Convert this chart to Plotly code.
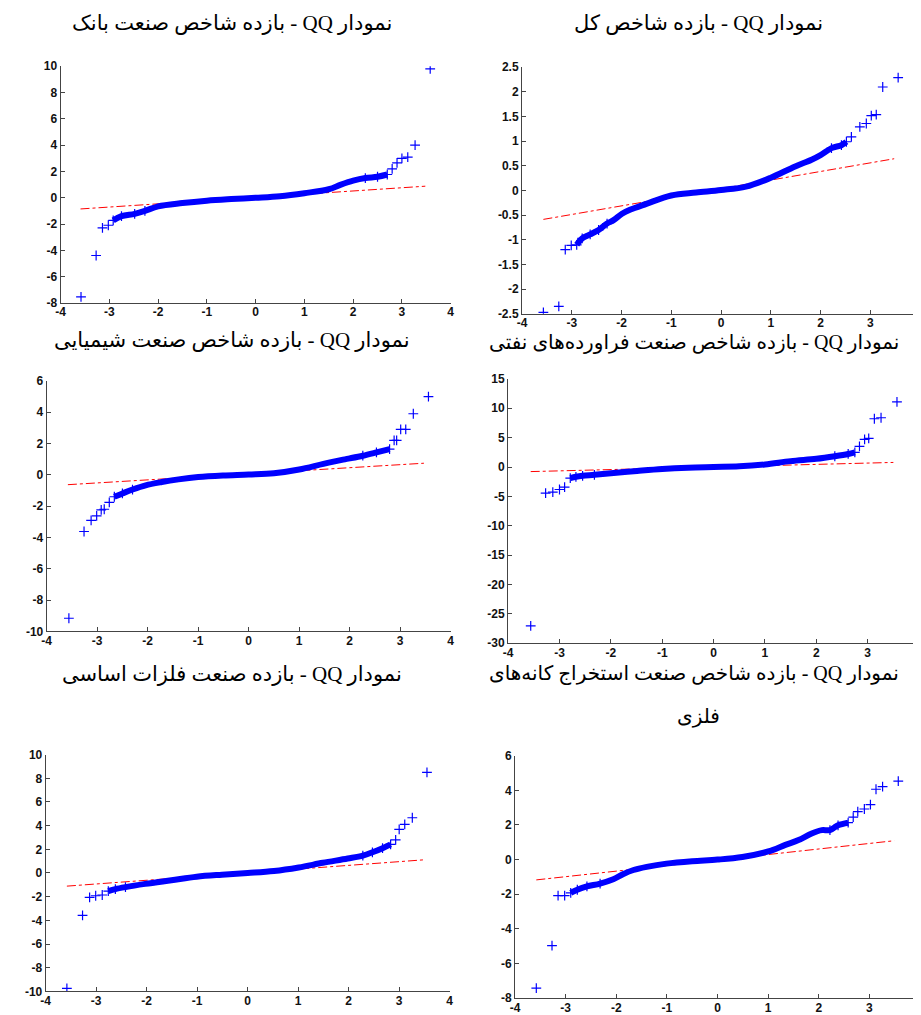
import plotly.graph_objects as go

W, H = 921, 1015

# ---------------- data ----------------
# Panel 1: bank industry
bank_band_x = [-2.92, -2.75, -2.48, -2.27, -2.0, -1.5, -1.0, -0.5, 0.0, 0.5, 1.0, 1.5, 1.75, 2.0, 2.25, 2.5, 2.7]
bank_band_y = [-1.72, -1.40, -1.22, -1.0, -0.65, -0.4, -0.22, -0.1, 0.0, 0.12, 0.35, 0.65, 1.0, 1.3, 1.5, 1.6, 1.77]
bank_tail_x = [-3.58, -3.27, -3.14, -3.02, 2.8, 2.9, 3.0, 3.12, 3.27, 3.58]
bank_tail_y = [-7.53, -4.39, -2.29, -2.09, 2.2, 2.65, 3.0, 3.09, 4.0, 9.8]
bank_ref_x = [-3.59, 3.48]
bank_ref_y = [-0.85, 0.88]

# Panel 2: overall index
total_band_x = [-2.9, -2.79, -2.63, -2.46, -2.29, -2.16, -1.99, -1.83, -1.5, -1.0, -0.5, 0.0, 0.5, 1.0, 1.49, 1.82, 2.0, 2.22, 2.42, 2.52]
total_band_y = [-1.1, -0.97, -0.89, -0.80, -0.67, -0.6, -0.47, -0.39, -0.27, -0.1, -0.04, 0.01, 0.08, 0.26, 0.49, 0.625, 0.72, 0.86, 0.92, 0.99]
total_tail_x = [-3.57, -3.26, -3.13, -3.01, 2.62, 2.79, 2.92, 3.02, 3.12, 3.25, 3.56]
total_tail_y = [-2.47, -2.35, -1.2, -1.11, 1.09, 1.29, 1.36, 1.52, 1.54, 2.1, 2.29]
total_ref_x = [-3.57, 3.48]
total_ref_y = [-0.585, 0.645]

# Panel 3: chemical industry
chem_band_x = [-2.66, -2.5, -2.3, -2.04, -1.72, -1.39, -1.0, -0.51, 0.0, 0.5, 1.0, 1.48, 1.87, 2.0, 2.26, 2.53, 2.79]
chem_band_y = [-1.40, -1.19, -0.94, -0.67, -0.46, -0.29, -0.14, -0.04, 0.02, 0.1, 0.34, 0.7, 0.97, 1.05, 1.22, 1.43, 1.64]
chem_tail_x = [-3.56, -3.26, -3.12, -3.01, -2.92, -2.86, -2.76, 2.88, 2.93, 3.01, 3.11, 3.26, 3.56]
chem_tail_y = [-9.16, -3.62, -2.91, -2.62, -2.24, -2.2, -1.76, 2.2, 2.2, 2.9, 2.9, 3.9, 4.99]
chem_ref_x = [-3.58, 3.47]
chem_ref_y = [-0.63, 0.74]

# Panel 4: petroleum products industry
oil_band_x = [-2.79, -2.68, -2.55, -2.32, -2.0, -1.49, -1.0, -0.5, 0.0, 0.5, 1.0, 1.5, 2.0, 2.36, 2.62, 2.75]
oil_band_y = [-1.89, -1.67, -1.5, -1.33, -1.06, -0.67, -0.33, -0.11, 0.0, 0.11, 0.44, 1.0, 1.39, 1.83, 2.22, 2.5]
oil_tail_x = [-3.56, -3.27, -3.13, -3.0, -2.9, 2.84, 2.94, 3.02, 3.13, 3.26, 3.57]
oil_tail_y = [-27.06, -4.44, -4.28, -3.83, -3.44, 3.5, 4.72, 4.89, 8.22, 8.39, 11.1]
oil_ref_x = [-3.56, 3.5]
oil_ref_y = [-0.78, 0.78]

# Panel 5: basic metals industry
metal_band_x = [-2.76, -2.62, -2.42, -2.03, -1.51, -1.01, -0.51, 0.0, 0.52, 1.01, 1.49, 1.98, 2.28, 2.47, 2.67, 2.83]
metal_band_y = [-1.53, -1.36, -1.19, -0.92, -0.61, -0.31, -0.14, 0.0, 0.17, 0.47, 0.86, 1.22, 1.47, 1.75, 2.1, 2.42]
metal_tail_x = [-3.58, -3.27, -3.13, -3.01, -2.88, 2.93, 3.0, 3.11, 3.26, 3.55]
metal_tail_y = [-9.75, -3.58, -2.06, -1.92, -1.86, 2.8, 3.69, 4.11, 4.67, 8.5]
metal_ref_x = [-3.58, 3.48]
metal_ref_y = [-1.11, 1.11]

# Panel 6: metal ore mining industry
mine_band_x = [-2.9, -2.77, -2.58, -2.32, -2.06, -1.86, -1.66, -1.4, -1.01, -0.5, 0.0, 0.49, 1.0, 1.34, 1.6, 1.86, 2.06, 2.22, 2.38, 2.58]
mine_band_y = [-1.92, -1.74, -1.55, -1.38, -1.13, -0.83, -0.6, -0.42, -0.23, -0.09, 0.0, 0.15, 0.47, 0.85, 1.13, 1.51, 1.7, 1.7, 1.98, 2.13]
mine_tail_x = [-3.58, -3.27, -3.15, -3.02, 2.68, 2.77, 2.9, 3.02, 3.13, 3.26, 3.57]
mine_tail_y = [-7.42, -4.96, -2.08, -2.08, 2.45, 2.77, 2.92, 3.17, 4.06, 4.21, 4.53]
mine_ref_x = [-3.58, 3.49]
mine_ref_y = [-1.17, 1.09]

x_ticks = [-4, -3, -2, -1, 0, 1, 2, 3, 4]
x_tick_labels = ["-4", "-3", "-2", "-1", "0", "1", "2", "3", "4"]
bank_yticks = [-8, -6, -4, -2, 0, 2, 4, 6, 8, 10]
total_yticks = [-2.5, -2, -1.5, -1, -0.5, 0, 0.5, 1, 1.5, 2, 2.5]
chem_yticks = [-10, -8, -6, -4, -2, 0, 2, 4, 6]
oil_yticks = [-30, -25, -20, -15, -10, -5, 0, 5, 10, 15]
metal_yticks = [-10, -8, -6, -4, -2, 0, 2, 4, 6, 8, 10]
mine_yticks = [-8, -6, -4, -2, 0, 2, 4, 6]

RLE, PDF, ZWNJ = "\u202b", "\u202c", "\u200c"
titles = [
    ["نمودار QQ - بازده شاخص صنعت بانک"],
    ["نمودار QQ - بازده شاخص کل"],
    ["نمودار QQ - بازده شاخص صنعت شیمیایی"],
    ["نمودار QQ - بازده شاخص صنعت فراورده" + ZWNJ + "های نفتی"],
    ["نمودار QQ - بازده صنعت فلزات اساسی"],
    ["نمودار QQ - بازده شاخص صنعت استخراج کانه" + ZWNJ + "های", "فلزی"],
]

# ---------------- layout geometry (pixels) ----------------
boxes = [  # x0, x1, y0(top), y1(bottom)
    (48, 442, 52, 292),
    (514, 916, 53, 303),
    (34, 442, 371, 625),
    (500, 915, 369, 637),
    (33, 441, 750, 990),
    (507, 916, 751, 997),
]
title_pos = [[(221, 8)], [(692, 8)], [(221, 330)], [(688, 332)], [(221, 668)], [(688, 668), (692, 711)]]
title_size = [21, 21, 21, 20, 21, 20]

panels = [
    (bank_band_x, bank_band_y, bank_tail_x, bank_tail_y, bank_ref_x, bank_ref_y, bank_yticks),
    (total_band_x, total_band_y, total_tail_x, total_tail_y, total_ref_x, total_ref_y, total_yticks),
    (chem_band_x, chem_band_y, chem_tail_x, chem_tail_y, chem_ref_x, chem_ref_y, chem_yticks),
    (oil_band_x, oil_band_y, oil_tail_x, oil_tail_y, oil_ref_x, oil_ref_y, oil_yticks),
    (metal_band_x, metal_band_y, metal_tail_x, metal_tail_y, metal_ref_x, metal_ref_y, metal_yticks),
    (mine_band_x, mine_band_y, mine_tail_x, mine_tail_y, mine_ref_x, mine_ref_y, mine_yticks),
]

BLUE = "rgb(0,0,255)"
RED = "rgb(255,0,0)"
AXC = "#444444"

fig = go.Figure()
annotations = []
for i, (bx, by, tx, ty, rx, ry, yt) in enumerate(panels):
    n = "" if i == 0 else str(i + 1)
    xa, ya = "x" + n, "y" + n
    marker = dict(symbol="cross-thin", size=7, color=BLUE, line=dict(color=BLUE, width=1.2))
    fig.add_trace(go.Scatter(x=rx, y=ry, mode="lines", line=dict(color=RED, width=1, dash="dashdot"),
                             xaxis=xa, yaxis=ya, showlegend=False, hoverinfo="skip"))
    fig.add_trace(go.Scatter(x=bx, y=by, mode="lines", line=dict(color=BLUE, width=6, shape="spline"),
                             xaxis=xa, yaxis=ya, showlegend=False))
    ex = [v for v in bx if abs(v) >= 2.2]
    ey = [w for v, w in zip(bx, by) if abs(v) >= 2.2]
    fig.add_trace(go.Scatter(x=ex + list(tx), y=ey + list(ty), mode="markers", marker=marker,
                             xaxis=xa, yaxis=ya, showlegend=False))
    x0, x1, y0, y1 = boxes[i]
    common = dict(showline=True, linecolor=AXC, linewidth=1, ticks="inside", ticklen=4, tickcolor=AXC,
                  showgrid=False, zeroline=False, mirror=False, fixedrange=True,
                  tickfont=dict(family="Liberation Sans, Arial, sans-serif", size=12, color="#111", weight="bold"))
    fig.layout["xaxis" + n] = dict(domain=[x0 / W, x1 / W], range=[-4, 4], anchor=ya,
                                   tickvals=x_ticks, ticktext=x_tick_labels, ticklabelstandoff=-2, **common)
    fig.layout["yaxis" + n] = dict(domain=[1 - y1 / H, 1 - y0 / H], range=[yt[0], yt[-1]], anchor=xa,
                                   tickvals=yt, ticktext=["%g" % v for v in yt], **common)
    for line_text, (px, py) in zip(titles[i], title_pos[i]):
        annotations.append(dict(text=RLE + line_text + PDF, x=px / W, y=1 - py / H, xref="paper", yref="paper",
                                xanchor="center", yanchor="middle", showarrow=False,
                                font=dict(family="Liberation Serif, DejaVu Serif, DejaVu Sans, serif",
                                          size=title_size[i], color="#000")))

fig.update_layout(width=W, height=H, margin=dict(l=0, r=0, t=0, b=0),
                  paper_bgcolor="white", plot_bgcolor="white", annotations=annotations)
fig.write_html("out.html")
